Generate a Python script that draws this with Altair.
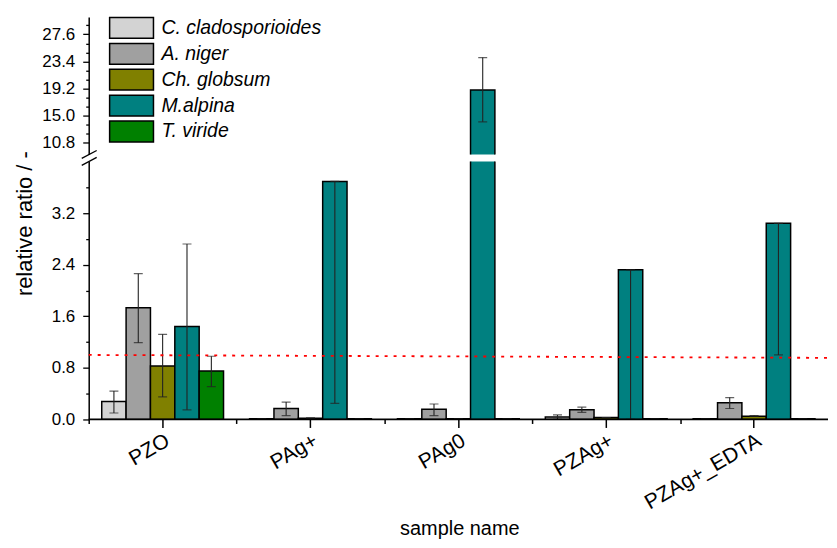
import json
import altair as alt
import pandas as pd

samples = ["PZO", "PAg+", "PAg0", "PZAg+", "PZAg+_EDTA"]
species = ["C. cladosporioides", "A. niger", "Ch. globsum", "M.alpina", "T. viride"]
colors = ["#d3d3d3", "#a0a0a0", "#808000", "#008080", "#008000"]

val_clad = [0.28, 0.01, 0.01, 0.04, 0.01]
val_niger = [1.73, 0.17, 0.16, 0.15, 0.26]
val_glob = [0.83, 0.02, 0.01, 0.03, 0.05]
val_alp = [1.44, 3.69, 18.98, 2.32, 3.04]
val_vir = [0.75, 0.01, 0.01, 0.01, 0.01]

lo_clad = [0.10, 0.01, 0.01, 0.00, 0.01]
hi_clad = [0.44, 0.01, 0.01, 0.07, 0.01]
lo_niger = [1.19, 0.06, 0.06, 0.11, 0.17]
hi_niger = [2.26, 0.27, 0.24, 0.19, 0.34]
lo_glob = [0.35, 0.02, 0.01, 0.03, 0.05]
hi_glob = [1.32, 0.02, 0.01, 0.03, 0.06]
lo_alp = [0.15, 0.25, 14.05, 0.00, 1.00]
hi_alp = [2.72, 3.69, 24.0, 2.32, 3.04]
lo_vir = [0.51, 0.01, 0.01, 0.01, 0.01]
hi_vir = [0.98, 0.01, 0.01, 0.01, 0.01]

lower_major = [0.0, 0.8, 1.6, 2.4, 3.2]
lower_minor = [0.4, 1.2, 2.0, 2.8, 3.6]
upper_major = [10.8, 15.0, 19.2, 23.4, 27.6]
upper_minor = [12.2, 13.6, 16.4, 17.8, 20.6, 22.0, 24.8, 26.2, 29.0]
lower_domain = [0.0, 4.0]
upper_domain = [9.0, 30.3]
ref_line = [1.0, 0.955]

values = [val_clad, val_niger, val_glob, val_alp, val_vir]
lows = [lo_clad, lo_niger, lo_glob, lo_alp, lo_vir]
highs = [hi_clad, hi_niger, hi_glob, hi_alp, hi_vir]

rows = []
for si, sp in enumerate(species):
    for ci, s in enumerate(samples):
        rows.append({"sample": s, "species": sp, "value": values[si][ci],
                     "lo": lows[si][ci], "hi": highs[si][ci]})
df = pd.DataFrame(rows)

FONT = "Liberation Sans"
W = 742


def y_axis(major, minor, title=None, **kw):
    test = f"indexof({json.dumps(major)}, datum.value) >= 0"
    return alt.Axis(
        values=sorted(major + minor),
        labelExpr=f"{test} ? format(datum.value, '.1f') : ''",
        tickSize={"condition": {"test": test, "value": 6}, "value": 3},
        tickWidth=1.3, tickColor="black", domainColor="black", domainWidth=1.5,
        labelFontSize=17, labelColor="black", labelPadding=8, grid=False,
        title=title, **kw)


xscale = alt.Scale(domain=samples, paddingInner=0, paddingOuter=0)
xoff = alt.XOffset("species:N", sort=species,
                   scale=alt.Scale(domain=species, paddingInner=0, paddingOuter=0.535))


def panel(domain, yax, height, legend, lower):
    ysc = alt.Scale(domain=domain, nice=False, zero=False)
    base = alt.Chart(df)
    main_x_axis = alt.Axis(
        orient="bottom", labelAngle=330, labelAlign="right", labelBaseline="top",
        labelFontSize=21, labelColor="black", labelPadding=2, tickSize=8,
        tickWidth=1.5, tickColor="black", domain=False, title="sample name",
        titleFontSize=20, titleFontWeight="normal", titleColor="black",
        titleX=372, titleY=109, titleBaseline="middle", titleAlign="center")
    bars = base.mark_bar(stroke="black", strokeWidth=1.5, clip=True).encode(
        x=alt.X("sample:N", sort=samples, scale=xscale,
                axis=main_x_axis if lower else None),
        xOffset=xoff,
        y=alt.Y("value:Q", scale=ysc, axis=yax),
        y2=alt.datum(0),
        color=alt.Color("species:N", sort=species,
                        scale=alt.Scale(domain=species, range=colors),
                        legend=legend),
    )
    minor_x_axis = alt.Axis(orient="bottom", labels=False, tickBand="extent",
                            values=samples[:-1], tickExtra=False, tickSize=4,
                            tickWidth=1.5, tickColor="black", domain=False,
                            title=None, grid=False)
    err = base.mark_rule(color="#222222", strokeWidth=1.1, clip=True).encode(
        x=alt.X("sample:N", sort=samples, scale=xscale,
                axis=minor_x_axis if lower else None),
        xOffset=xoff,
        y=alt.Y("lo:Q", scale=ysc, axis=yax),
        y2="hi:Q",
    )
    cap_lo = base.mark_tick(color="#222222", thickness=1.2, size=9, clip=True).encode(
        x=alt.X("sample:N", sort=samples, scale=xscale, axis=None),
        xOffset=xoff,
        y=alt.Y("lo:Q", scale=ysc, axis=yax),
    )
    cap_hi = base.mark_tick(color="#222222", thickness=1.2, size=9, clip=True).encode(
        x=alt.X("sample:N", sort=samples, scale=xscale, axis=None),
        xOffset=xoff,
        y=alt.Y("hi:Q", scale=ysc, axis=yax),
    )
    layers = [bars, err, cap_lo, cap_hi]
    if lower:
        baseline = alt.Chart(pd.DataFrame({"v": [0.0]})).mark_rule(
            color="black", strokeWidth=1.8).encode(y=alt.Y("v:Q", scale=ysc, axis=yax))
        red = alt.Chart(pd.DataFrame({"a": [ref_line[0]], "b": [ref_line[1]]})).mark_rule(
            color="#ff0000", strokeDash=[3, 6], strokeWidth=1.8).encode(
            x=alt.value(0), x2=alt.value("width"),
            y=alt.Y("a:Q", scale=ysc, axis=yax), y2="b:Q")
        one = pd.DataFrame({"k": [1]})
        brk1 = alt.Chart(one).mark_rule(color="black", strokeWidth=1.3).encode(
            x=alt.value(-7), x2=alt.value(8), y=alt.value(-3), y2=alt.value(-11))
        brk2 = alt.Chart(one).mark_rule(color="black", strokeWidth=1.3).encode(
            x=alt.value(-7), x2=alt.value(8), y=alt.value(4), y2=alt.value(-4))
        layers += [baseline, red, brk1, brk2]
    ch = alt.layer(*layers).properties(width=W, height=height)
    if lower:
        ch = ch.resolve_axis(x="independent")
    return ch


legend = alt.Legend(
    orient="none", legendX=31, legendY=-1, title=None,
    symbolType="M-2,-0.95H2V0.95H-2Z", symbolSize=484,
    symbolStrokeColor="black", symbolStrokeWidth=1.5, symbolOpacity=1,
    labelFontSize=19.5, labelFontStyle="italic", labelColor="black",
    labelOffset=18, labelLimit=400, rowPadding=-5, padding=0)

upper = panel(upper_domain, y_axis(upper_major, upper_minor), 138, legend, False)
lower = panel(lower_domain,
              y_axis(lower_major, lower_minor, title="relative ratio / -",
                     titleFontSize=22, titleFontWeight="normal", titleColor="black",
                     titleX=-64, titleY=62, titleAngle=270, titleAlign="center",
                     titleBaseline="middle"),
              259, None, True)

chart = alt.vconcat(upper, lower, spacing=-5).resolve_scale(color="independent").properties(
    padding={"left": 5, "top": 7, "right": 0, "bottom": 0}
).configure(font=FONT).configure_view(stroke=None).configure_axis(
    labelFont=FONT, titleFont=FONT).configure_legend(labelFont=FONT)

chart.save("out.html", embed_options={"renderer": "svg", "actions": False})
